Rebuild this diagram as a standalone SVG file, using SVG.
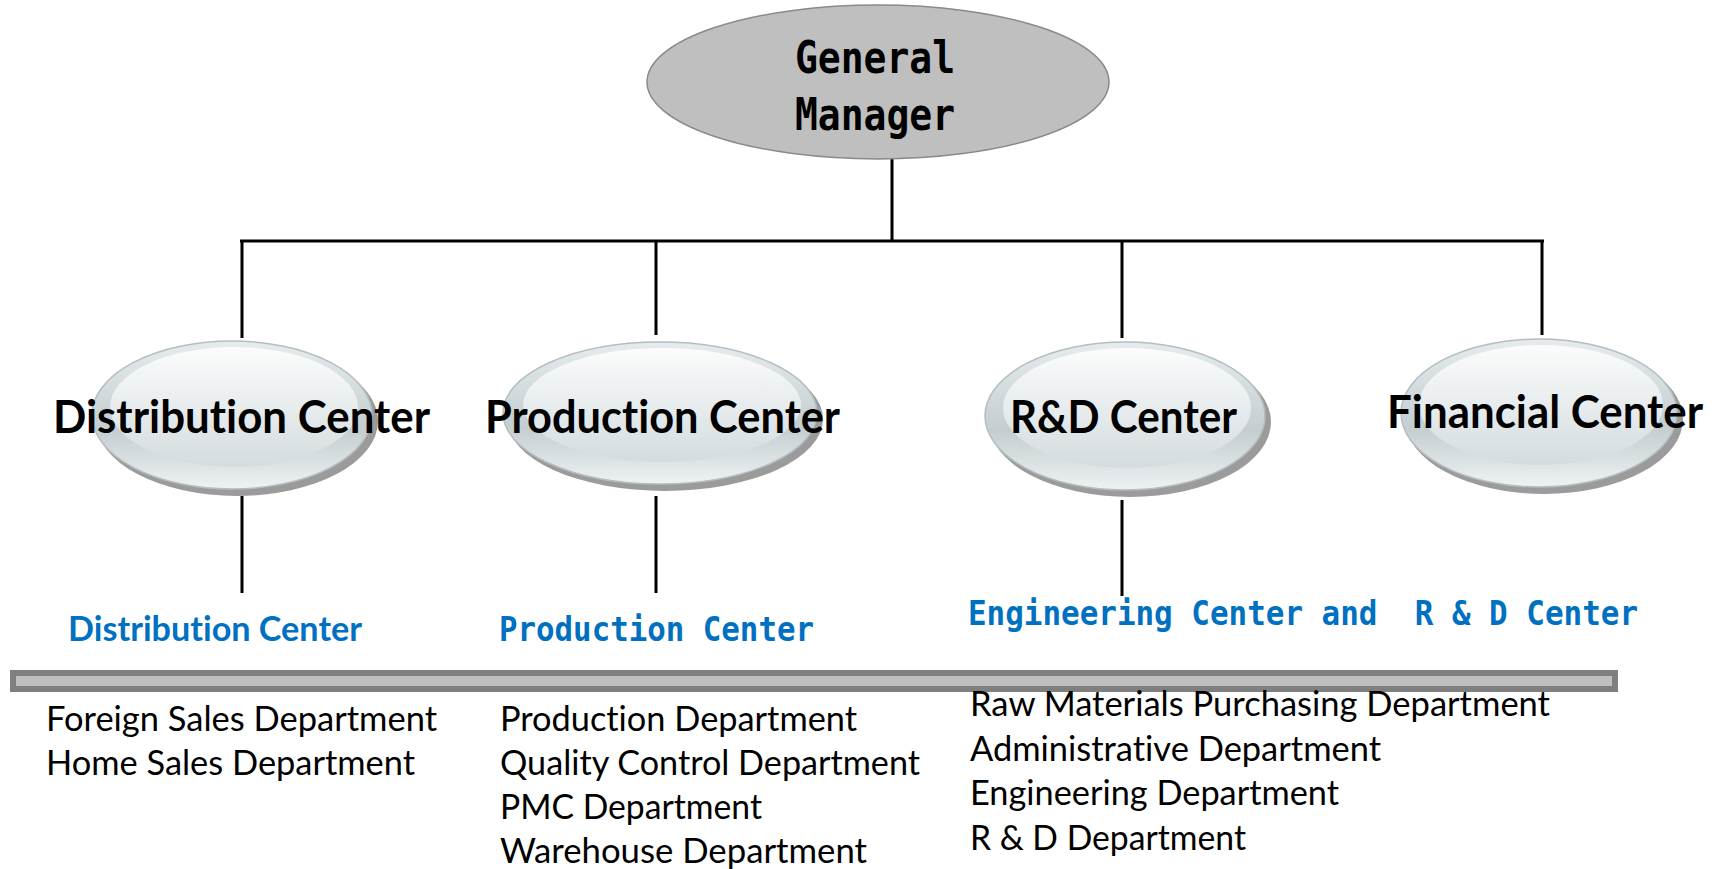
<svg xmlns="http://www.w3.org/2000/svg" width="1721" height="869" viewBox="0 0 1721 869">
<style>
text{font-variant-ligatures:none}
.conn line{stroke:#000;stroke-width:3}
.gmt{font-family:"DejaVu Sans Mono",monospace;font-weight:bold;font-size:44px;fill:#000}
.ct{font-family:Lato,"Liberation Sans",sans-serif;font-weight:bold;font-size:45px;fill:#000}
.bl{font-family:Lato,"Liberation Sans",sans-serif;font-weight:bold;font-size:35px;fill:#0070C0}
.bm{font-family:"DejaVu Sans Mono",monospace;font-weight:bold;font-size:34px;fill:#0070C0}
.dt{font-family:Lato,"Liberation Sans",sans-serif;font-size:35px;fill:#000}
.shadow{fill:#9b9b9b}
.rim{fill:url(#rimG);stroke:#b4bec1;stroke-width:1.5}
.inner{fill:url(#innerG)}
</style>
<defs>
<linearGradient id="rimG" x1="0" y1="0" x2="0" y2="1">
<stop offset="0" stop-color="#e6ecee"/>
<stop offset="0.6" stop-color="#c4cdd0"/>
<stop offset="1" stop-color="#eef2f3"/>
</linearGradient>
<linearGradient id="innerG" x1="0" y1="0" x2="0" y2="1">
<stop offset="0" stop-color="#fbfcfc"/>
<stop offset="1" stop-color="#d4dcdf"/>
</linearGradient>
</defs>

<g id="connectors" class="conn">
<line x1="892" y1="158" x2="892" y2="241"/>
<line x1="240" y1="241" x2="1544" y2="241"/>
<line x1="242" y1="241" x2="242" y2="338"/>
<line x1="656" y1="241" x2="656" y2="335"/>
<line x1="1122" y1="241" x2="1122" y2="338"/>
<line x1="1542" y1="241" x2="1542" y2="335"/>
<line x1="242" y1="496" x2="242" y2="593"/>
<line x1="656" y1="496" x2="656" y2="593"/>
<line x1="1122" y1="500" x2="1122" y2="596"/>
</g>

<g id="general-manager">
<ellipse cx="878" cy="82" rx="231" ry="77" fill="#bfbfbf" stroke="#8a8a8a" stroke-width="1.5"/>
<text class="gmt" x="795" y="73" textLength="160" lengthAdjust="spacingAndGlyphs">General</text>
<text class="gmt" x="795" y="130" textLength="160" lengthAdjust="spacingAndGlyphs">Manager</text>
</g>

<g id="distribution-center">
<ellipse class="shadow" cx="237" cy="421" rx="141" ry="75"/>
<ellipse class="rim" cx="232" cy="415" rx="140" ry="74"/>
<ellipse class="inner" cx="234" cy="407" rx="124" ry="60"/>
<text class="ct" x="53" y="433" textLength="377" lengthAdjust="spacingAndGlyphs">Distribution Center</text>
</g>

<g id="production-center">
<ellipse class="shadow" cx="665" cy="419" rx="158" ry="72"/>
<ellipse class="rim" cx="660" cy="413" rx="157" ry="71"/>
<ellipse class="inner" cx="662" cy="405" rx="139" ry="57"/>
<text class="ct" x="485" y="433" textLength="355" lengthAdjust="spacingAndGlyphs">Production Center</text>
</g>

<g id="rd-center">
<ellipse class="shadow" cx="1130" cy="422" rx="141" ry="75"/>
<ellipse class="rim" cx="1125" cy="416" rx="140" ry="74"/>
<ellipse class="inner" cx="1127" cy="408" rx="124" ry="60"/>
<text class="ct" x="1010" y="433" textLength="227" lengthAdjust="spacingAndGlyphs">R&amp;D Center</text>
</g>

<g id="financial-center">
<ellipse class="shadow" cx="1544" cy="419" rx="139" ry="75"/>
<ellipse class="rim" cx="1539" cy="413" rx="138" ry="74"/>
<ellipse class="inner" cx="1541" cy="405" rx="122" ry="60"/>
<text class="ct" x="1387" y="428" textLength="316" lengthAdjust="spacingAndGlyphs">Financial Center</text>
</g>

<g id="distribution-label">
<text class="bl" x="68" y="641" textLength="294" lengthAdjust="spacingAndGlyphs">Distribution Center</text>
</g>
<g id="production-label">
<text class="bm" x="499" y="641" textLength="315" lengthAdjust="spacingAndGlyphs">Production Center</text>
</g>
<g id="engineering-label">
<text class="bm" x="968" y="625" textLength="670" lengthAdjust="spacingAndGlyphs" xml:space="preserve">Engineering Center and  R &amp; D Center</text>
</g>

<g id="divider-bar">
<rect x="13" y="673" width="1602" height="16" fill="#bfbfbf" stroke="#7f7f7f" stroke-width="6"/>
</g>

<g id="distribution-departments">
<text class="dt" x="46" y="731" textLength="391" lengthAdjust="spacingAndGlyphs">Foreign Sales Department</text>
<text class="dt" x="46" y="775" textLength="369" lengthAdjust="spacingAndGlyphs">Home Sales Department</text>
</g>

<g id="production-departments">
<text class="dt" x="500" y="731" textLength="357" lengthAdjust="spacingAndGlyphs">Production Department</text>
<text class="dt" x="500" y="775" textLength="420" lengthAdjust="spacingAndGlyphs">Quality Control Department</text>
<text class="dt" x="500" y="819" textLength="262" lengthAdjust="spacingAndGlyphs">PMC Department</text>
<text class="dt" x="500" y="863" textLength="367" lengthAdjust="spacingAndGlyphs">Warehouse Department</text>
</g>

<g id="rd-departments">
<text class="dt" x="970" y="716" textLength="580" lengthAdjust="spacingAndGlyphs">Raw Materials Purchasing Department</text>
<text class="dt" x="970" y="761" textLength="411" lengthAdjust="spacingAndGlyphs">Administrative Department</text>
<text class="dt" x="970" y="805" textLength="369" lengthAdjust="spacingAndGlyphs">Engineering Department</text>
<text class="dt" x="970" y="850" textLength="276" lengthAdjust="spacingAndGlyphs">R &amp; D Department</text>
</g>
</svg>
